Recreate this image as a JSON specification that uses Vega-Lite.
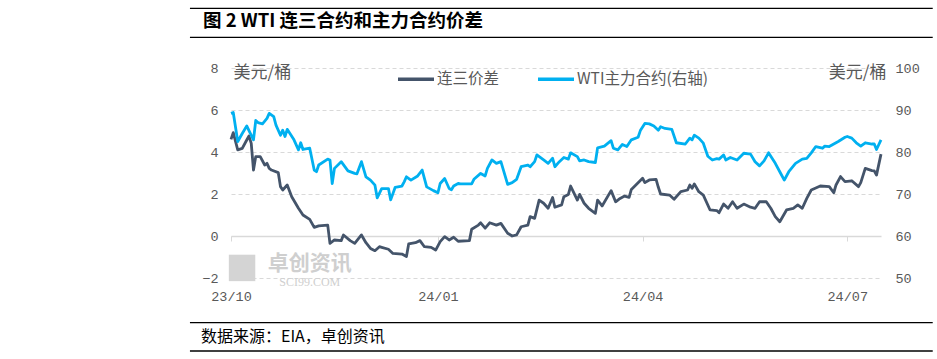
{
"$schema": "https://vega.github.io/schema/vega-lite/v6.json",
"width": 650, "height": 210,
"autosize": "none",
"padding": {"left": 231, "top": 68, "right": 56, "bottom": 81},
"background": "white",
"config": {"view": {"stroke": null}},
"datasets": {
"spread": [
{"date":"2023-10-01","spread":4.60},{"date":"2023-10-02","spread":4.92},{"date":"2023-10-04","spread":4.10},{"date":"2023-10-06","spread":4.17},{"date":"2023-10-08","spread":4.57},{"date":"2023-10-09","spread":4.76},{"date":"2023-10-10","spread":4.41},{"date":"2023-10-11","spread":3.14},{"date":"2023-10-12","spread":3.78},{"date":"2023-10-14","spread":3.78},{"date":"2023-10-16","spread":3.38},{"date":"2023-10-17","spread":3.46},{"date":"2023-10-18","spread":3.22},{"date":"2023-10-19","spread":3.14},{"date":"2023-10-22","spread":3.02},{"date":"2023-10-23","spread":2.35},{"date":"2023-10-24","spread":2.19},{"date":"2023-10-26","spread":2.43},{"date":"2023-10-28","spread":1.87},{"date":"2023-10-31","spread":1.32},
{"date":"2023-11-02","spread":1.00},{"date":"2023-11-05","spread":0.79},{"date":"2023-11-07","spread":0.41},{"date":"2023-11-09","spread":0.48},{"date":"2023-11-13","spread":0.52},{"date":"2023-11-14","spread":-0.35},{"date":"2023-11-16","spread":-0.19},{"date":"2023-11-19","spread":-0.22},{"date":"2023-11-20","spread":0.05},{"date":"2023-11-23","spread":-0.22},{"date":"2023-11-25","spread":-0.35},{"date":"2023-11-28","spread":0.05},{"date":"2023-11-30","spread":-0.32},
{"date":"2023-12-02","spread":-0.59},{"date":"2023-12-04","spread":-0.70},{"date":"2023-12-06","spread":-0.51},{"date":"2023-12-07","spread":-0.54},{"date":"2023-12-10","spread":-0.63},{"date":"2023-12-12","spread":-0.83},{"date":"2023-12-16","spread":-0.86},{"date":"2023-12-18","spread":-0.98},{"date":"2023-12-19","spread":-0.38},{"date":"2023-12-22","spread":-0.32},{"date":"2023-12-24","spread":-0.22},{"date":"2023-12-26","spread":-0.51},{"date":"2023-12-29","spread":-0.54},{"date":"2023-12-31","spread":-0.67},
{"date":"2024-01-02","spread":-0.27},{"date":"2024-01-04","spread":-0.03},{"date":"2024-01-06","spread":-0.19},{"date":"2024-01-08","spread":-0.06},{"date":"2024-01-10","spread":-0.25},{"date":"2024-01-15","spread":-0.22},{"date":"2024-01-16","spread":0.32},{"date":"2024-01-19","spread":0.52},{"date":"2024-01-20","spread":0.63},{"date":"2024-01-22","spread":0.37},{"date":"2024-01-24","spread":0.63},{"date":"2024-01-27","spread":0.52},{"date":"2024-01-29","spread":0.60},
{"date":"2024-02-01","spread":0.13},{"date":"2024-02-03","spread":0.00},{"date":"2024-02-05","spread":0.05},{"date":"2024-02-07","spread":0.44},{"date":"2024-02-10","spread":0.52},{"date":"2024-02-11","spread":0.92},{"date":"2024-02-13","spread":0.84},{"date":"2024-02-15","spread":1.71},{"date":"2024-02-17","spread":1.56},{"date":"2024-02-19","spread":1.32},{"date":"2024-02-21","spread":1.83},{"date":"2024-02-22","spread":1.37},{"date":"2024-02-25","spread":1.48},{"date":"2024-02-26","spread":1.87},{"date":"2024-02-28","spread":1.98},{"date":"2024-02-29","spread":2.38},
{"date":"2024-03-03","spread":1.71},{"date":"2024-03-04","spread":1.98},{"date":"2024-03-06","spread":1.56},{"date":"2024-03-08","spread":1.32},{"date":"2024-03-11","spread":1.08},{"date":"2024-03-12","spread":1.71},{"date":"2024-03-14","spread":1.43},{"date":"2024-03-18","spread":2.16},{"date":"2024-03-20","spread":1.63},{"date":"2024-03-22","spread":1.79},{"date":"2024-03-24","spread":1.90},{"date":"2024-03-26","spread":1.84},{"date":"2024-03-27","spread":2.22},{"date":"2024-03-29","spread":2.43},
{"date":"2024-04-01","spread":2.75},{"date":"2024-04-02","spread":2.54},{"date":"2024-04-04","spread":2.67},{"date":"2024-04-07","spread":2.70},{"date":"2024-04-08","spread":2.32},{"date":"2024-04-09","spread":2.00},{"date":"2024-04-13","spread":1.95},{"date":"2024-04-15","spread":1.75},{"date":"2024-04-18","spread":2.11},{"date":"2024-04-21","spread":2.19},{"date":"2024-04-22","spread":2.43},{"date":"2024-04-23","spread":2.27},{"date":"2024-04-24","spread":2.48},{"date":"2024-04-26","spread":2.11},{"date":"2024-04-28","spread":1.95},
{"date":"2024-05-01","spread":1.24},{"date":"2024-05-04","spread":1.21},{"date":"2024-05-05","spread":1.11},{"date":"2024-05-07","spread":1.52},{"date":"2024-05-09","spread":1.32},{"date":"2024-05-11","spread":1.63},{"date":"2024-05-13","spread":1.32},{"date":"2024-05-16","spread":1.52},{"date":"2024-05-19","spread":1.37},{"date":"2024-05-21","spread":1.32},{"date":"2024-05-23","spread":1.63},{"date":"2024-05-26","spread":1.63},{"date":"2024-05-28","spread":1.32},{"date":"2024-05-30","spread":0.92},
{"date":"2024-06-01","spread":0.68},{"date":"2024-06-04","spread":1.24},{"date":"2024-06-07","spread":1.32},{"date":"2024-06-09","spread":1.48},{"date":"2024-06-11","spread":1.32},{"date":"2024-06-13","spread":1.79},{"date":"2024-06-15","spread":2.19},{"date":"2024-06-19","spread":2.38},{"date":"2024-06-23","spread":2.35},{"date":"2024-06-25","spread":2.06},{"date":"2024-06-26","spread":2.43},{"date":"2024-06-28","spread":2.83},{"date":"2024-06-30","spread":2.59},
{"date":"2024-07-03","spread":2.63},{"date":"2024-07-06","spread":2.35},{"date":"2024-07-07","spread":2.54},{"date":"2024-07-09","spread":3.22},{"date":"2024-07-12","spread":3.11},{"date":"2024-07-13","spread":3.10},{"date":"2024-07-14","spread":2.90},{"date":"2024-07-16","spread":3.90}
],
"wti": [
{"date":"2023-10-01","price":89.2},{"date":"2023-10-02","price":89.4},{"date":"2023-10-04","price":82.5},{"date":"2023-10-06","price":84.4},{"date":"2023-10-08","price":86.2},{"date":"2023-10-09","price":85.1},{"date":"2023-10-11","price":82.9},{"date":"2023-10-12","price":87.5},{"date":"2023-10-13","price":87.0},{"date":"2023-10-15","price":86.7},{"date":"2023-10-17","price":88.0},{"date":"2023-10-18","price":89.2},{"date":"2023-10-20","price":88.4},{"date":"2023-10-21","price":86.4},{"date":"2023-10-23","price":84.0},{"date":"2023-10-24","price":85.2},{"date":"2023-10-25","price":83.7},{"date":"2023-10-26","price":85.4},{"date":"2023-10-29","price":82.9},{"date":"2023-10-31","price":80.5},
{"date":"2023-11-01","price":82.2},{"date":"2023-11-02","price":80.6},{"date":"2023-11-05","price":80.9},{"date":"2023-11-07","price":75.7},{"date":"2023-11-08","price":75.3},{"date":"2023-11-09","price":76.9},{"date":"2023-11-13","price":78.3},{"date":"2023-11-14","price":78.1},{"date":"2023-11-15","price":72.5},{"date":"2023-11-16","price":76.1},{"date":"2023-11-19","price":77.7},{"date":"2023-11-22","price":75.5},{"date":"2023-11-25","price":74.9},{"date":"2023-11-26","price":74.8},{"date":"2023-11-28","price":77.7},{"date":"2023-11-30","price":74.1},
{"date":"2023-12-02","price":73.3},{"date":"2023-12-04","price":72.1},{"date":"2023-12-05","price":69.1},{"date":"2023-12-07","price":71.3},{"date":"2023-12-10","price":71.3},{"date":"2023-12-11","price":68.6},{"date":"2023-12-13","price":71.6},{"date":"2023-12-16","price":71.9},{"date":"2023-12-17","price":72.9},{"date":"2023-12-18","price":74.1},{"date":"2023-12-20","price":73.3},{"date":"2023-12-23","price":74.3},{"date":"2023-12-25","price":75.7},{"date":"2023-12-27","price":71.7},{"date":"2023-12-30","price":70.8},
{"date":"2024-01-01","price":70.3},{"date":"2024-01-02","price":72.5},{"date":"2024-01-04","price":73.7},{"date":"2024-01-06","price":71.3},{"date":"2024-01-07","price":71.0},{"date":"2024-01-08","price":71.9},{"date":"2024-01-10","price":72.5},{"date":"2024-01-11","price":72.4},{"date":"2024-01-16","price":72.4},{"date":"2024-01-17","price":73.5},{"date":"2024-01-20","price":74.9},{"date":"2024-01-22","price":74.3},{"date":"2024-01-23","price":76.1},{"date":"2024-01-25","price":78.1},{"date":"2024-01-27","price":77.3},{"date":"2024-01-29","price":77.7},
{"date":"2024-02-01","price":72.3},{"date":"2024-02-03","price":72.7},{"date":"2024-02-05","price":73.5},{"date":"2024-02-07","price":76.5},{"date":"2024-02-10","price":76.9},{"date":"2024-02-11","price":76.5},{"date":"2024-02-13","price":77.7},{"date":"2024-02-14","price":79.3},{"date":"2024-02-17","price":78.1},{"date":"2024-02-19","price":77.3},{"date":"2024-02-21","price":78.5},{"date":"2024-02-22","price":76.5},{"date":"2024-02-24","price":77.7},{"date":"2024-02-26","price":78.7},{"date":"2024-02-28","price":78.3},{"date":"2024-02-29","price":79.8},
{"date":"2024-03-03","price":78.9},{"date":"2024-03-04","price":77.9},{"date":"2024-03-06","price":78.1},{"date":"2024-03-08","price":77.7},{"date":"2024-03-11","price":77.5},{"date":"2024-03-12","price":81.0},{"date":"2024-03-15","price":81.4},{"date":"2024-03-18","price":82.7},{"date":"2024-03-19","price":80.9},{"date":"2024-03-21","price":80.5},{"date":"2024-03-23","price":81.8},{"date":"2024-03-25","price":81.3},{"date":"2024-03-27","price":82.9},{"date":"2024-03-30","price":83.5},{"date":"2024-03-31","price":85.1},
{"date":"2024-04-02","price":86.8},{"date":"2024-04-04","price":86.7},{"date":"2024-04-06","price":86.2},{"date":"2024-04-08","price":85.2},{"date":"2024-04-09","price":86.0},{"date":"2024-04-11","price":85.6},{"date":"2024-04-14","price":85.4},{"date":"2024-04-16","price":82.2},{"date":"2024-04-20","price":81.9},{"date":"2024-04-22","price":83.3},{"date":"2024-04-23","price":82.9},{"date":"2024-04-24","price":84.0},{"date":"2024-04-26","price":83.3},{"date":"2024-04-28","price":82.1},{"date":"2024-04-30","price":79.0},
{"date":"2024-05-02","price":78.1},{"date":"2024-05-04","price":78.4},{"date":"2024-05-05","price":78.3},{"date":"2024-05-07","price":79.3},{"date":"2024-05-08","price":78.1},{"date":"2024-05-10","price":78.7},{"date":"2024-05-13","price":78.1},{"date":"2024-05-16","price":79.7},{"date":"2024-05-19","price":79.5},{"date":"2024-05-21","price":77.7},{"date":"2024-05-23","price":76.7},{"date":"2024-05-25","price":77.9},{"date":"2024-05-27","price":79.8},{"date":"2024-05-30","price":77.3},
{"date":"2024-06-01","price":75.3},{"date":"2024-06-03","price":73.3},{"date":"2024-06-05","price":75.3},{"date":"2024-06-08","price":77.3},{"date":"2024-06-11","price":78.3},{"date":"2024-06-13","price":78.5},{"date":"2024-06-15","price":79.8},{"date":"2024-06-17","price":81.3},{"date":"2024-06-20","price":80.9},{"date":"2024-06-21","price":81.4},{"date":"2024-06-23","price":81.3},{"date":"2024-06-25","price":81.9},{"date":"2024-06-27","price":82.5},{"date":"2024-06-30","price":83.5},
{"date":"2024-07-01","price":83.7},{"date":"2024-07-03","price":83.3},{"date":"2024-07-05","price":82.2},{"date":"2024-07-07","price":81.4},{"date":"2024-07-09","price":82.2},{"date":"2024-07-12","price":81.9},{"date":"2024-07-13","price":81.9},{"date":"2024-07-14","price":80.6},{"date":"2024-07-16","price":82.9}
]
},
"layer": [
{
"data": {"name": "spread"},
"mark": {"type": "line", "color": "#44546A", "strokeWidth": 2.8, "strokeJoin": "round"},
"encoding": {
"x": {"field": "date", "type": "temporal",
"scale": {"type": "utc", "domain": [{"year": 2023, "month": 10, "date": 1, "utc": true}, {"year": 2024, "month": 7, "date": 16, "utc": true}], "nice": false},
"axis": {"orient": "bottom", "title": null, "format": "%y/%m",
"values": [{"year": 2023, "month": 10, "date": 1, "utc": true}, {"year": 2024, "month": 1, "date": 1, "utc": true}, {"year": 2024, "month": 4, "date": 1, "utc": true}, {"year": 2024, "month": 7, "date": 1, "utc": true}],
"domain": false, "ticks": false, "tickSize": 0, "grid": false, "labelFlush": false, "labelPadding": 11,
"labelFont": "Liberation Mono", "labelFontSize": 13.5, "labelColor": "#595959"}},
"y": {"field": "spread", "type": "quantitative",
"scale": {"domain": [-2, 8], "nice": false, "zero": false},
"axis": {"orient": "left", "values": [-2, 0, 2, 4, 6, 8], "domain": false, "ticks": false,
"grid": true, "gridDash": [4, 3], "gridColor": "#d9d9d9", "gridWidth": 1,
"labelFont": "Liberation Mono", "labelFontSize": 13.5, "labelColor": "#595959", "labelPadding": 13,
"title": "美元/桶", "titleAngle": 0, "titleAlign": "left", "titleBaseline": "middle", "titleX": 2, "titleY": 4,
"titleFont": "Noto Sans CJK SC", "titleFontSize": 17, "titleFontWeight": "normal", "titleColor": "#595959"}},
"color": {"datum": "连三价差", "type": "nominal",
"scale": {"domain": ["连三价差", "WTI主力合约(右轴)"], "range": ["#44546A", "#00B0F0"]},
"legend": {"orient": "none", "legendX": 165, "legendY": -9, "direction": "horizontal", "title": null,
"symbolType": "stroke", "symbolSize": 1296, "symbolStrokeWidth": 3.5, "labelOffset": 1, "columnPadding": 31,
"labelFont": "Noto Sans CJK SC", "labelFontSize": 15.5, "labelColor": "#595959", "symbolOpacity": 1}}
}
},
{
"data": {"name": "wti"},
"mark": {"type": "line", "color": "#00B0F0", "strokeWidth": 2.8, "strokeJoin": "round"},
"encoding": {
"x": {"field": "date", "type": "temporal",
"scale": {"type": "utc", "domain": [{"year": 2023, "month": 10, "date": 1, "utc": true}, {"year": 2024, "month": 7, "date": 16, "utc": true}], "nice": false},
"axis": {"orient": "bottom", "offset": -42, "title": null, "labels": false, "grid": false,
"values": [{"year": 2023, "month": 10, "date": 1, "utc": true}, {"year": 2024, "month": 1, "date": 1, "utc": true}, {"year": 2024, "month": 4, "date": 1, "utc": true}, {"year": 2024, "month": 7, "date": 1, "utc": true}],
"domain": true, "domainColor": "#d9d9d9", "domainWidth": 1.3, "ticks": true, "tickColor": "#d9d9d9", "tickSize": 5, "tickWidth": 1}},
"y": {"field": "price", "type": "quantitative",
"scale": {"domain": [50, 100], "nice": false, "zero": false},
"axis": {"orient": "right", "values": [50, 60, 70, 80, 90, 100], "domain": false, "ticks": false, "grid": false,
"labelFont": "Liberation Mono", "labelFontSize": 13.5, "labelColor": "#595959", "labelPadding": 14,
"title": "美元/桶", "titleAngle": 0, "titleAlign": "right", "titleBaseline": "middle", "titleX": 5, "titleY": 4,
"titleFont": "Noto Sans CJK SC", "titleFontSize": 17, "titleFontWeight": "normal", "titleColor": "#595959"}},
"color": {"datum": "WTI主力合约(右轴)", "type": "nominal"}
}
},
{
"data": {"values": [{}]},
"layer": [
{
"mark": {"type": "rule", "color": "#000000", "strokeWidth": 1.3},
"encoding": {
"x": {"datum": {"year": 2023, "month": 9, "date": 12, "hours": 18, "utc": true}, "type": "temporal", "axis": null,
"scale": {"type": "utc", "domain": [{"year": 2023, "month": 10, "date": 1, "utc": true}, {"year": 2024, "month": 7, "date": 16, "utc": true}], "nice": false}},
"x2": {"datum": {"year": 2024, "month": 8, "date": 8, "utc": true}},
"y": {"datum": 10.843, "type": "quantitative", "axis": null, "scale": {"domain": [-2, 8], "nice": false, "zero": false}}
}
},
{
"mark": {"type": "rule", "color": "#000000", "strokeWidth": 1.3},
"encoding": {
"x": {"datum": {"year": 2023, "month": 9, "date": 12, "hours": 18, "utc": true}, "type": "temporal", "axis": null},
"x2": {"datum": {"year": 2024, "month": 8, "date": 8, "utc": true}},
"y": {"datum": 9.462, "type": "quantitative", "axis": null}
}
},
{
"mark": {"type": "rule", "color": "#000000", "strokeWidth": 1.3},
"encoding": {
"x": {"datum": {"year": 2023, "month": 9, "date": 12, "hours": 18, "utc": true}, "type": "temporal", "axis": null},
"x2": {"datum": {"year": 2024, "month": 8, "date": 8, "utc": true}},
"y": {"datum": -4.129, "type": "quantitative", "axis": null}
}
},
{
"mark": {"type": "rule", "color": "#000000", "strokeWidth": 1.3},
"encoding": {
"x": {"datum": {"year": 2023, "month": 9, "date": 12, "hours": 18, "utc": true}, "type": "temporal", "axis": null},
"x2": {"datum": {"year": 2024, "month": 8, "date": 8, "utc": true}},
"y": {"datum": -5.476, "type": "quantitative", "axis": null}
}
},
{
"mark": {"type": "text", "align": "left", "baseline": "middle", "font": "Noto Sans CJK SC", "fontSize": 18.5, "fontWeight": "bold", "color": "#000000"},
"encoding": {
"x": {"datum": {"year": 2023, "month": 9, "date": 18, "hours": 13, "utc": true}, "type": "temporal", "axis": null},
"y": {"datum": 10.24, "type": "quantitative", "axis": null},
"text": {"value": "图 2 WTI 连三合约和主力合约价差"}
}
},
{
"mark": {"type": "text", "align": "left", "baseline": "middle", "font": "Noto Sans CJK SC", "fontSize": 16, "fontWeight": "normal", "color": "#000000"},
"encoding": {
"x": {"datum": {"year": 2023, "month": 9, "date": 17, "hours": 16, "utc": true}, "type": "temporal", "axis": null},
"y": {"datum": -4.81, "type": "quantitative", "axis": null},
"text": {"value": "数据来源：EIA，卓创资讯"}
}
},
{
"mark": {"type": "point", "shape": "square", "filled": true, "size": 700, "color": "#d4d4d4", "opacity": 1},
"encoding": {
"x": {"datum": {"year": 2023, "month": 10, "date": 5, "hours": 22, "utc": true}, "type": "temporal", "axis": null},
"y": {"datum": -1.52, "type": "quantitative", "axis": null}
}
},
{
"mark": {"type": "text", "align": "center", "baseline": "middle", "font": "Noto Sans CJK SC", "fontSize": 21, "fontWeight": "bold", "color": "#cfcfcf"},
"encoding": {
"x": {"datum": {"year": 2023, "month": 11, "date": 5, "utc": true}, "type": "temporal", "axis": null},
"y": {"datum": -1.33, "type": "quantitative", "axis": null},
"text": {"value": "卓创资讯"}
}
},
{
"mark": {"type": "text", "align": "center", "baseline": "middle", "font": "Liberation Serif", "fontSize": 12, "color": "#cfcfcf"},
"encoding": {
"x": {"datum": {"year": 2023, "month": 11, "date": 5, "utc": true}, "type": "temporal", "axis": null},
"y": {"datum": -2.2, "type": "quantitative", "axis": null},
"text": {"value": "SCI99.COM"}
}
}
]
}
],
"resolve": {"scale": {"y": "independent"}, "axis": {"x": "independent", "y": "independent"}}
}
